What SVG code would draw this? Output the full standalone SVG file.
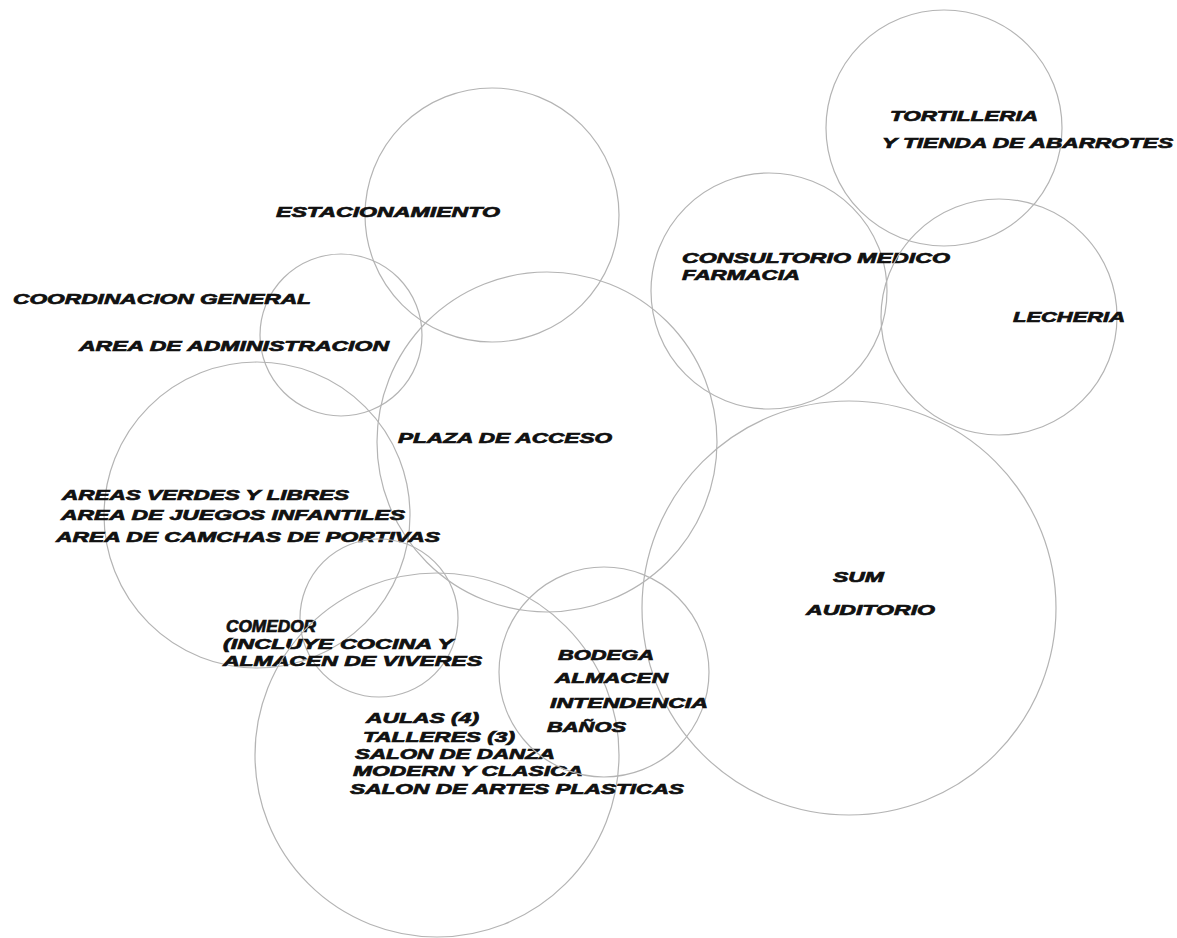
<svg xmlns="http://www.w3.org/2000/svg" width="1177" height="938" viewBox="0 0 1177 938">
<style>
.c{fill:none;stroke:#b4b4b4;stroke-width:1.2}
.t{font-family:"Liberation Sans",Arial,sans-serif;font-weight:bold;font-style:italic;font-size:15px;fill:#111;stroke:#111;stroke-width:0.7}
</style>
<rect width="1177" height="938" fill="#fff"/>
<g id="connectors"></g>
<g id="tortilleria">
<circle class="c" cx="944" cy="128" r="118"/>
<text class="t" x="890" y="121" textLength="148" lengthAdjust="spacingAndGlyphs">TORTILLERIA</text>
<text class="t" x="882" y="148" textLength="291" lengthAdjust="spacingAndGlyphs">Y TIENDA DE ABARROTES</text>
</g>
<g id="estacionamiento">
<circle class="c" cx="492" cy="215" r="127"/>
<text class="t" x="276" y="217" textLength="224" lengthAdjust="spacingAndGlyphs">ESTACIONAMIENTO</text>
</g>
<g id="consultorio">
<circle class="c" cx="769" cy="291" r="118"/>
<text class="t" x="682" y="263" textLength="268" lengthAdjust="spacingAndGlyphs">CONSULTORIO MEDICO</text>
<text class="t" x="682" y="280" textLength="118" lengthAdjust="spacingAndGlyphs">FARMACIA</text>
</g>
<g id="lecheria">
<circle class="c" cx="999" cy="317" r="118"/>
<text class="t" x="1013" y="322" textLength="112" lengthAdjust="spacingAndGlyphs">LECHERIA</text>
</g>
<g id="administracion">
<circle class="c" cx="341" cy="335" r="81"/>
<text class="t" x="13" y="304" textLength="298" lengthAdjust="spacingAndGlyphs">COORDINACION GENERAL</text>
<text class="t" x="79" y="351" textLength="310" lengthAdjust="spacingAndGlyphs">AREA DE ADMINISTRACION</text>
</g>
<g id="plaza">
<circle class="c" cx="547" cy="442" r="170"/>
<text class="t" x="398" y="443" textLength="214" lengthAdjust="spacingAndGlyphs">PLAZA DE ACCESO</text>
</g>
<g id="areas-verdes">
<circle class="c" cx="257" cy="515" r="153"/>
<text class="t" x="62" y="500" textLength="287" lengthAdjust="spacingAndGlyphs">AREAS VERDES Y LIBRES</text>
<text class="t" x="61" y="520" textLength="344" lengthAdjust="spacingAndGlyphs">AREA DE JUEGOS INFANTILES</text>
<text class="t" x="56" y="542" textLength="384" lengthAdjust="spacingAndGlyphs">AREA DE CAMCHAS DE PORTIVAS</text>
</g>
<g id="sum">
<circle class="c" cx="849" cy="608" r="207"/>
<text class="t" x="833" y="582" textLength="51" lengthAdjust="spacingAndGlyphs">SUM</text>
<text class="t" x="806" y="615" textLength="129" lengthAdjust="spacingAndGlyphs">AUDITORIO</text>
</g>
<g id="comedor">
<circle class="c" cx="379" cy="618" r="79"/>
<text class="t" x="226" y="632" style="font-size:16.5px" textLength="90" lengthAdjust="spacingAndGlyphs">COMEDOR</text>
<text class="t" x="223" y="649" textLength="230" lengthAdjust="spacingAndGlyphs">(INCLUYE COCINA Y</text>
<text class="t" x="223" y="666" textLength="259" lengthAdjust="spacingAndGlyphs">ALMACEN DE VIVERES</text>
</g>
<g id="aulas">
<circle class="c" cx="437" cy="755" r="182"/>
<text class="t" x="366" y="723" textLength="113" lengthAdjust="spacingAndGlyphs">AULAS (4)</text>
<text class="t" x="363" y="742" textLength="152" lengthAdjust="spacingAndGlyphs">TALLERES (3)</text>
<text class="t" x="355" y="759" textLength="200" lengthAdjust="spacingAndGlyphs">SALON DE DANZA</text>
<text class="t" x="353" y="776" textLength="230" lengthAdjust="spacingAndGlyphs">MODERN Y CLASICA</text>
<text class="t" x="350" y="794" textLength="334" lengthAdjust="spacingAndGlyphs">SALON DE ARTES PLASTICAS</text>
</g>
<g id="bodega">
<circle class="c" cx="604" cy="672" r="105"/>
<text class="t" x="558" y="660" textLength="96" lengthAdjust="spacingAndGlyphs">BODEGA</text>
<text class="t" x="555" y="683" textLength="113" lengthAdjust="spacingAndGlyphs">ALMACEN</text>
<text class="t" x="550" y="708" textLength="158" lengthAdjust="spacingAndGlyphs">INTENDENCIA</text>
<text class="t" x="547" y="732" textLength="79" lengthAdjust="spacingAndGlyphs">BAÑOS</text>
</g>
</svg>
